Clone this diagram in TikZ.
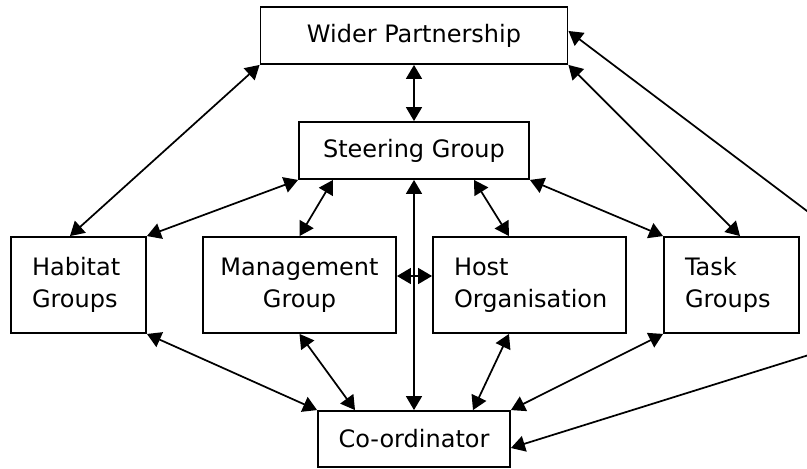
\documentclass[tikz,border=0pt]{standalone}
\usepackage{fontspec}
\setmainfont{DejaVu Sans}
\usetikzlibrary{arrows.meta}

\tikzset{
  box/.style={draw, line width=1.4pt, inner ysep=0pt, minimum height=72pt,
    font=\fontsize{18}{24}\selectfont},
  boxleft/.style={box, inner xsep=15.75pt, align=left},
  link/.style={line width=1.3pt},
}

\begin{document}
\begin{tikzpicture}[x=0.75pt, y=-0.75pt, >={Triangle[length=10.5pt,width=12pt]}]
\useasboundingbox (0,0) rectangle (807,468);
\clip (0,0) rectangle (807,468);

\node[box, minimum width=230.25pt, minimum height=42.75pt] (wider) at (414,35.5) {Wider Partnership};
\node[box, minimum width=172.5pt, minimum height=42.75pt] (steer) at (414,150.5) {Steering Group};

\node[boxleft, text width=69.75pt] (habitat) at (78.5,285) {Habitat\\Groups};
\node[box, minimum width=144.75pt, align=center] (mgmt) at (299.5,285) {Management\\Group};
\node[boxleft, text width=113.25pt] (host) at (529.5,285) {Host\\Organisation};
\node[boxleft, text width=69.75pt] (task) at (731.5,285) {Task\\Groups};

\node[box, minimum width=144pt, minimum height=42pt] (coord) at (414,439) {Co-ordinator};

% ends beyond the right edge
\coordinate (farup) at (860,251);
\coordinate (farlow) at (860,339);

\draw [<->, link] (wider.south west) -- ([xshift=-6.4pt]habitat.north);
\draw [<->, link] (wider.south) -- (steer.north);
\draw [<->, link] (wider.south east) -- ([xshift=6.4pt]task.north);

\draw [<->, link] (steer.south west) -- (habitat.north east);
\draw [<->, link] ([xshift=-60.75pt]steer.south) -- (mgmt.north);
\draw [<->, link] (steer.south) -- (coord.north);
\draw [<->, link] ([xshift=45pt]steer.south) -- ([xshift=-15.4pt]host.north);
\draw [<->, link] (steer.south east) -- (task.north west);

\draw [<->, link] ([yshift=6.75pt]mgmt.east) -- ([yshift=6.75pt]host.west);

\draw [<->, link] (habitat.south east) -- (coord.north west);
\draw [<->, link] (mgmt.south) -- ([xshift=-44.25pt]coord.north);
\draw [<->, link] ([xshift=-15.4pt]host.south) -- ([xshift=44.25pt]coord.north);
\draw [<->, link] (task.south west) -- (coord.north east);

\draw [->, link] (farup) -- ([yshift=3.4pt]wider.east);
\draw [->, link] (farlow) -- ([yshift=-6.75pt]coord.east);
\end{tikzpicture}
\end{document}
